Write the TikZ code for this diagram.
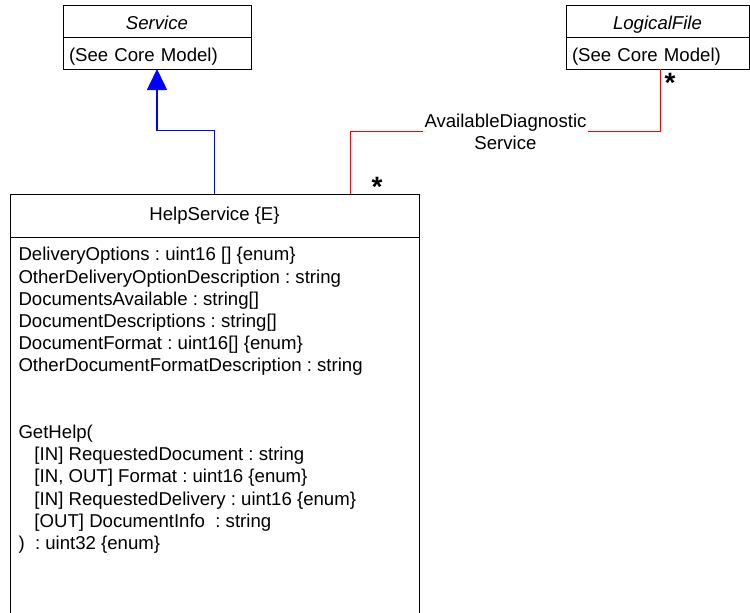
\documentclass[tikz,border=0pt]{standalone}
\usepackage{fontspec}
\setmainfont{Liberation Sans}
\frenchspacing
\usetikzlibrary{arrows.meta,positioning}

\begin{document}
\begin{tikzpicture}[
  x=1pt,y=-1pt,
  font=\fontsize{18.6}{22.2}\selectfont,line width=1pt,
  cls/.style={draw,minimum height=32pt,inner sep=0pt,outer sep=0pt},
  small/.style={cls,text height=17pt,text depth=0pt},
  body/.style={small,text width=#1,inner xsep=6pt,align=left},
  gen/.style={blue,line width=1.5pt,-{Triangle[length=21pt,width=20pt]}},
  assoc/.style={red,line width=1pt},
  mult/.style={font=\fontsize{28}{28}\selectfont\bfseries,inner sep=0pt}
]
\clip (0,0) rectangle (750,613);
% core model classes
\node[small,minimum width=188pt] (service) at (157,21) {\itshape Service};
\node[body=176pt,below=0pt of service] (servicebody) {(See Core Model)};
\node[small,minimum width=183pt] (logical) at (657.5,21) {\itshape LogicalFile};
\node[body=171pt,below=0pt of logical] (logicalbody) {(See Core Model)};

% the help service class
\node[cls,minimum width=409pt,minimum height=43pt] (help) at (214.5,215.5) {HelpService \{E\}};
\node[cls,minimum width=409pt,minimum height=420pt,below=0pt of help] (helpbody) {};
\node[anchor=north west,align=left,inner sep=0pt] (helpattrs)
  at ([xshift=8pt,yshift=-10pt]helpbody.north west) {%
  DeliveryOptions : uint16 [] \{enum\}\\
  OtherDeliveryOptionDescription : string\\
  DocumentsAvailable : string[]\\
  DocumentDescriptions : string[]\\
  DocumentFormat : uint16[] \{enum\}\\
  OtherDocumentFormatDescription : string\\[44.4pt]
  GetHelp(\\
  \hspace*{16pt}[IN] RequestedDocument : string\\
  \hspace*{16pt}[IN, OUT] Format : uint16 \{enum\}\\
  \hspace*{16pt}[IN] RequestedDelivery : uint16 \{enum\}\\
  \hspace*{16pt}[OUT] DocumentInfo\ \ : string\\
  )\ \ : uint32 \{enum\}};

% connectors
\draw[gen] (help.north) -- ++(0,-63.5) -| (servicebody.south);
\draw[assoc] ([xshift=136pt]help.north) -- ++(0,-62.5)
  -| node[pos=0.25,fill=white,align=center,inner xsep=2pt,inner ysep=0pt,text=black] (assoclabel)
  {AvailableDiagnostic\\Service} ([xshift=3pt]logicalbody.south);
\node[mult] (multhelp) at (377,187) {*};
\node[mult] (multlogical) at (670,83) {*};
\end{tikzpicture}
\end{document}
